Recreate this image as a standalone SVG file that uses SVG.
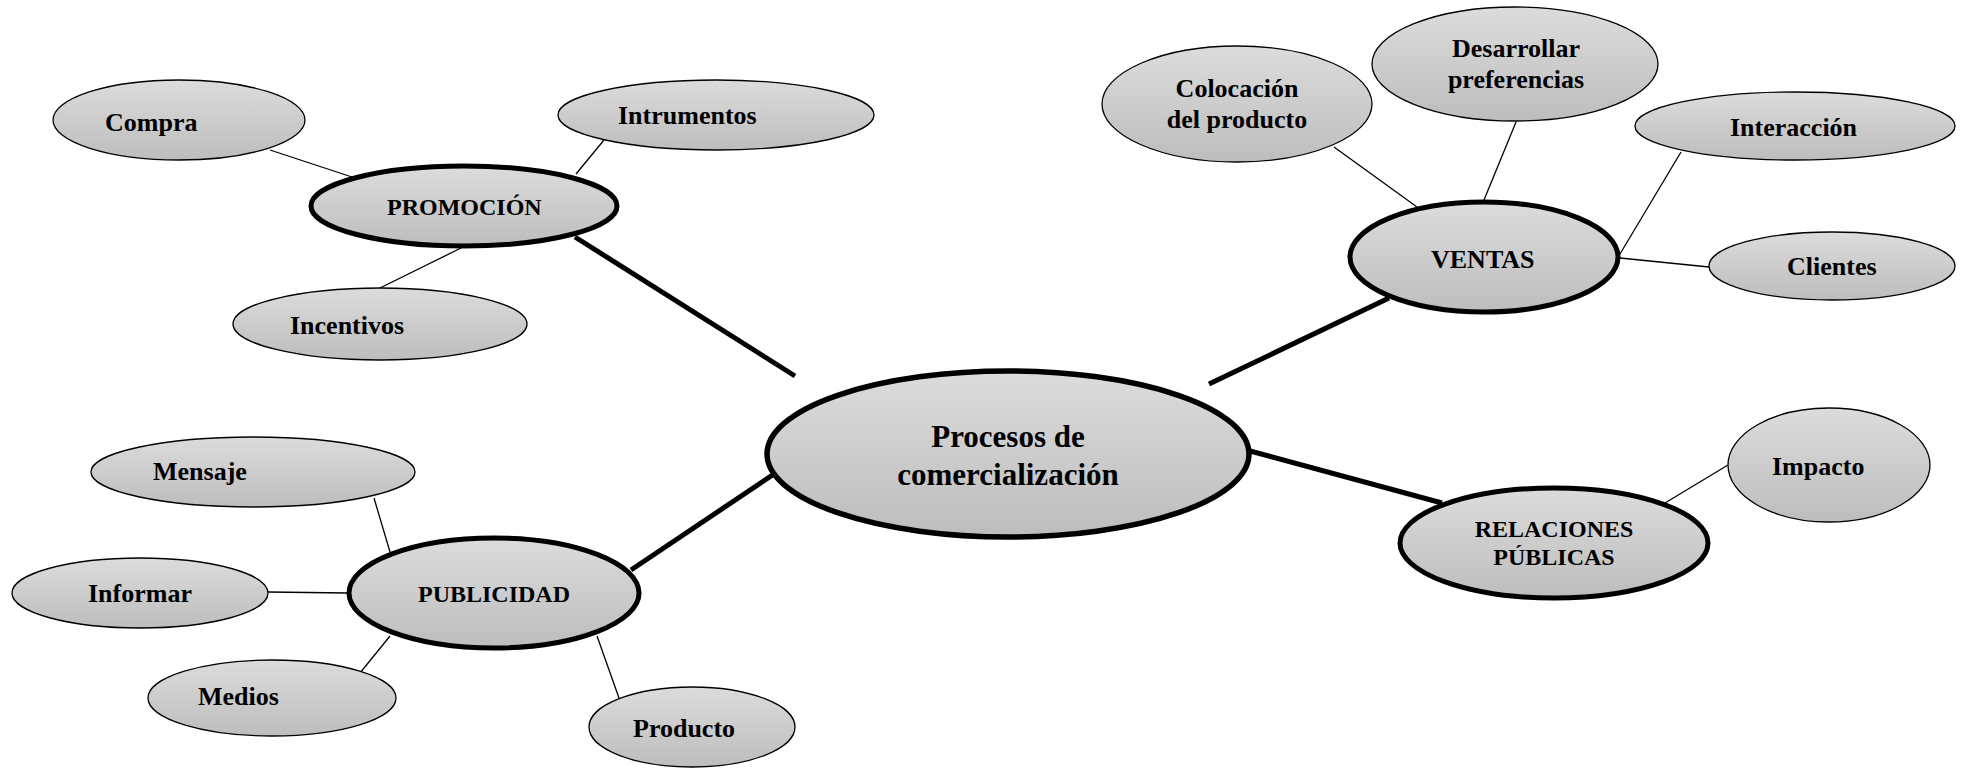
<svg xmlns="http://www.w3.org/2000/svg" width="1966" height="769" viewBox="0 0 1966 769">
<defs>
<linearGradient id="g" x1="0" y1="0" x2="0" y2="1">
<stop offset="0" stop-color="#dcdcdc"/>
<stop offset="1" stop-color="#bdbdbd"/>
</linearGradient>
</defs>
<style>
.leaf{fill:url(#g);stroke:#000;stroke-width:1.3}
.main{fill:url(#g);stroke:#000;stroke-width:5}
.center{fill:url(#g);stroke:#000;stroke-width:5.5}
.thin{stroke:#000;stroke-width:1.3;fill:none}
.thick{stroke:#000;stroke-width:5;fill:none}
text{font-family:"Liberation Serif","Times New Roman",serif;font-weight:bold;fill:#000}
.t26{font-size:26px}
.t24{font-size:24px}
.t32{font-size:31px}
.c{text-anchor:middle}
</style>
<rect width="1966" height="769" fill="#fff"/>
<g id="connectors">
<line class="thick" x1="575" y1="237" x2="795" y2="376"/>
<line class="thick" x1="1389" y1="298" x2="1209" y2="384"/>
<line class="thick" x1="631" y1="570" x2="774" y2="474"/>
<line class="thick" x1="1250" y1="451" x2="1442" y2="503"/>
<line class="thin" x1="270" y1="150" x2="352" y2="177"/>
<line class="thin" x1="604" y1="140" x2="576" y2="174"/>
<line class="thin" x1="380" y1="288" x2="461" y2="248"/>
<line class="thin" x1="374" y1="498" x2="390" y2="552"/>
<line class="thin" x1="268" y1="592" x2="347" y2="593"/>
<line class="thin" x1="360" y1="673" x2="390" y2="636"/>
<line class="thin" x1="597" y1="636" x2="619" y2="698"/>
<line class="thin" x1="1334" y1="147" x2="1417" y2="207"/>
<line class="thin" x1="1516" y1="122" x2="1484" y2="200"/>
<line class="thin" x1="1681" y1="152" x2="1620" y2="254"/>
<line class="thin" x1="1620" y1="258" x2="1709" y2="267"/>
<line class="thin" x1="1728" y1="465" x2="1665" y2="503"/>
</g>
<g id="compra"><ellipse class="leaf" cx="179" cy="120" rx="126" ry="40"/><text class="t26" x="105" y="131">Compra</text></g>
<g id="intrumentos"><ellipse class="leaf" cx="716" cy="115" rx="158" ry="35"/><text class="t26" x="618" y="124">Intrumentos</text></g>
<g id="promocion"><ellipse class="main" cx="464" cy="206" rx="153" ry="40"/><text class="t24" x="387" y="215">PROMOCIÓN</text></g>
<g id="incentivos"><ellipse class="leaf" cx="380" cy="324" rx="147" ry="36"/><text class="t26" x="290" y="334">Incentivos</text></g>
<g id="central"><ellipse class="center" cx="1008" cy="454" rx="241" ry="83"/><text class="t32 c" x="1008" y="447">Procesos de</text><text class="t32 c" x="1008" y="485">comercialización</text></g>
<g id="mensaje"><ellipse class="leaf" cx="253" cy="472" rx="162" ry="35"/><text class="t26" x="153" y="480">Mensaje</text></g>
<g id="informar"><ellipse class="leaf" cx="140" cy="593" rx="128" ry="35"/><text class="t26" x="88" y="602">Informar</text></g>
<g id="publicidad"><ellipse class="main" cx="494" cy="593" rx="145" ry="55"/><text class="t24" x="418" y="602">PUBLICIDAD</text></g>
<g id="medios"><ellipse class="leaf" cx="272" cy="698" rx="124" ry="38"/><text class="t26" x="198" y="705">Medios</text></g>
<g id="producto"><ellipse class="leaf" cx="692" cy="727" rx="103" ry="40"/><text class="t26" x="633" y="737">Producto</text></g>
<g id="colocacion"><ellipse class="leaf" cx="1237" cy="104" rx="135" ry="58"/><text class="t26 c" x="1237" y="97">Colocación</text><text class="t26 c" x="1237" y="128">del producto</text></g>
<g id="desarrollar"><ellipse class="leaf" cx="1515" cy="64" rx="143" ry="57"/><text class="t26 c" x="1516" y="57">Desarrollar</text><text class="t26 c" x="1516" y="88">preferencias</text></g>
<g id="interaccion"><ellipse class="leaf" cx="1795" cy="126" rx="160" ry="34"/><text class="t26" x="1730" y="136">Interacción</text></g>
<g id="ventas"><ellipse class="main" cx="1484" cy="257" rx="134" ry="55"/><text class="t26" x="1431" y="268">VENTAS</text></g>
<g id="clientes"><ellipse class="leaf" cx="1832" cy="266" rx="123" ry="34"/><text class="t26" x="1787" y="275">Clientes</text></g>
<g id="impacto"><ellipse class="leaf" cx="1829" cy="465" rx="101" ry="57"/><text class="t26" x="1772" y="475">Impacto</text></g>
<g id="relaciones"><ellipse class="main" cx="1554" cy="543" rx="154" ry="55"/><text class="t24 c" x="1554" y="537">RELACIONES</text><text class="t24 c" x="1554" y="565">PÚBLICAS</text></g>
</svg>
